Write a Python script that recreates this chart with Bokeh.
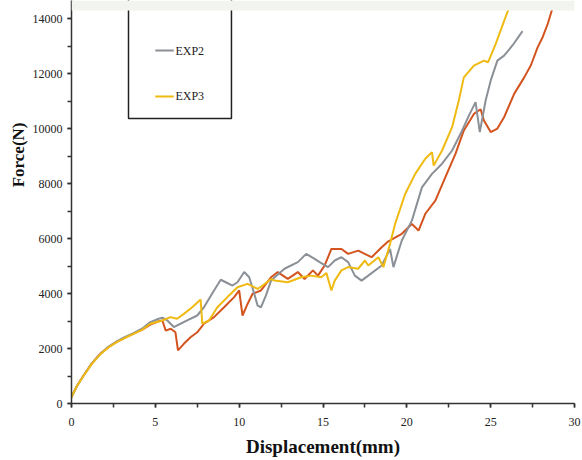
from bokeh.plotting import figure
from bokeh.models import Range1d, SingleIntervalTicker, Title, BoxAnnotation
from bokeh.core.properties import value
from bokeh.embed import file_html
from bokeh.resources import INLINE

# ---- data ----
exp1_x = [0, 0.3, 0.7, 1.2, 1.7, 2.2, 2.7, 3.2, 3.7, 4.2, 4.7, 5.2, 5.42, 5.62, 5.92, 6.2, 6.35,
          6.7, 7.1, 7.5, 7.9, 8.5, 9.1, 9.7, 10.0, 10.2, 10.5, 10.8, 11.3, 11.9, 12.3, 12.9,
          13.5, 13.9, 14.4, 14.7, 15.1, 15.5, 16.1, 16.5, 17.1, 17.7, 17.9, 18.5, 18.9, 19.7,
          20.3, 20.7, 21.1, 21.7, 22.3, 22.9, 23.4, 24.0, 24.4, 24.6, 25.0, 25.4, 25.8, 26.4,
          27.0, 27.4, 27.8, 28.1, 28.4, 28.7]
exp1_y = [230, 620, 1000, 1450, 1800, 2050, 2240, 2400, 2540, 2680, 2870, 2990, 3020, 2650,
          2720, 2590, 1930, 2170, 2410, 2590, 2900, 3140, 3500, 3870, 4110, 3200, 3620, 3990,
          4110, 4590, 4780, 4530, 4780, 4530, 4840, 4650, 5020, 5620, 5620, 5440, 5560, 5380,
          5320, 5680, 5900, 6170, 6530, 6290, 6900, 7380, 8230, 9080, 9930, 10530, 10700,
          10290, 9870, 10000, 10410, 11260, 11860, 12300, 12950, 13320, 13800, 14400]

exp2_x = [0, 0.3, 0.7, 1.2, 1.7, 2.2, 2.7, 3.2, 3.7, 4.2, 4.7, 5.2, 5.42, 5.72, 6.1, 6.5, 6.9,
          7.5, 7.9, 8.5, 8.9, 9.2, 9.6, 9.9, 10.3, 10.6, 10.9, 11.1, 11.3, 11.6, 11.9, 12.7,
          13.5, 14.0, 14.5, 14.8, 15.3, 15.7, 16.1, 16.5, 16.9, 17.3, 17.7, 18.5, 19.0, 19.2,
          19.7, 20.3, 20.9, 21.5, 22.1, 22.7, 23.3, 23.7, 24.1, 24.35, 24.7, 25.0, 25.4, 25.8,
          26.3, 26.9]
exp2_y = [230, 600, 1000, 1440, 1790, 2060, 2260, 2420, 2560, 2720, 2960, 3080, 3120, 3020,
          2780, 2900, 3020, 3200, 3500, 4110, 4500, 4410, 4290, 4410, 4780, 4590, 3990, 3560,
          3500, 3930, 4470, 4900, 5140, 5440, 5260, 5140, 4960, 5200, 5320, 5140, 4650, 4470,
          4650, 5020, 5620, 4960, 5930, 6650, 7860, 8350, 8720, 9200, 9930, 10470, 10960,
          9870, 11020, 11740, 12470, 12650, 13020, 13540]

exp3_x = [0, 0.3, 0.7, 1.2, 1.7, 2.2, 2.7, 3.2, 3.7, 4.2, 4.7, 5.42, 5.9, 6.3, 6.7, 7.2, 7.7,
          7.8, 8.2, 8.7, 9.3, 9.9, 10.5, 11.1, 11.4, 11.9, 12.1, 12.9, 13.7, 14.3, 14.9, 15.2,
          15.5, 15.7, 16.1, 16.5, 17.1, 17.5, 17.7, 18.3, 18.6, 19.0, 19.3, 19.9, 20.5, 21.1,
          21.5, 21.6, 22.1, 22.7, 23.1, 23.4, 24.0, 24.6, 24.85, 25.3, 25.7, 26.1]
exp3_y = [230, 610, 990, 1430, 1780, 2040, 2230, 2390, 2530, 2680, 2900, 3020, 3140, 3080,
          3260, 3500, 3780, 2900, 3020, 3500, 3870, 4230, 4350, 4170, 4290, 4530, 4470, 4410,
          4590, 4650, 4590, 4750, 4110, 4470, 4840, 4960, 4900, 5200, 5020, 5320, 4960, 5810,
          6530, 7620, 8350, 8900, 9140, 8650, 9200, 10050, 11020, 11860, 12290, 12470, 12410,
          13080, 13740, 14400]

series_names = ["EXP1", "EXP2", "EXP3"]
series_colors = ["#d3541f", "#8b9097", "#efba12"]

x_ticks_interval = 5
y_ticks_interval = 2000

Y_TOP = 14655      # value at the very top of the picture
BAND_FROM = 14291  # the light band over the top 10 px of the picture

# ---- figure ----
p = figure(width=582, height=460, output_backend="svg", toolbar_location=None,
           x_range=Range1d(0, 30), y_range=Range1d(0, Y_TOP),
           min_border_left=71, min_border_right=8, min_border_top=0, min_border_bottom=57)
p.outline_line_color = None
p.grid.visible = False
p.background_fill_color = "white"
p.border_fill_color = "white"

for xs, ys, c in zip([exp1_x, exp2_x, exp3_x], [exp1_y, exp2_y, exp3_y], series_colors):
    p.line(xs, ys, line_color=c, line_width=2)

p.xaxis.ticker = SingleIntervalTicker(interval=x_ticks_interval, num_minor_ticks=2)
p.yaxis.ticker = SingleIntervalTicker(interval=y_ticks_interval, num_minor_ticks=2)
for ax in (p.xaxis[0], p.yaxis[0]):
    ax.axis_line_color = "#333333"
    ax.axis_line_width = 1.5
    ax.major_tick_line_color = "#333333"
    ax.minor_tick_line_color = "#333333"
    ax.major_tick_line_width = 1.5
    ax.minor_tick_line_width = 1.5
    ax.major_tick_out = 4
    ax.major_tick_in = 0
    ax.minor_tick_out = 4
    ax.minor_tick_in = 0
    ax.major_label_text_font = "Liberation Serif"
    ax.major_label_text_font_size = "12px"
    ax.major_label_text_color = "#222222"
p.xaxis.major_label_standoff = 10
p.yaxis.major_label_standoff = 5

p.xaxis.axis_label = "Displacement(mm)"
p.xaxis.axis_label_text_font = "Liberation Serif"
p.xaxis.axis_label_text_font_style = "bold"
p.xaxis.axis_label_text_font_size = "19px"
p.xaxis.axis_label_text_color = "#111111"
p.xaxis.axis_label_standoff = 7

ytitle = Title(text="Force(N)", align="right", offset=122, text_font="Liberation Serif",
               text_font_style="bold", text_font_size="17px", text_color="#111111",
               standoff=4)
p.add_layout(ytitle, "left")

# ---- legend (its top part is hidden by the band above the chart) ----
p.quad(left=3.40, right=9.54, bottom=10364, top=16000, fill_color="white",
       line_color="#222222", line_width=1.5)
leg_y = [14508, 12836, 11164]
for name, c, ly in zip(series_names, series_colors, leg_y):
    if ly > BAND_FROM:
        continue
    p.segment(x0=5.0, y0=ly, x1=6.1, y1=ly, line_color=c, line_width=2)
    p.text(x=[6.2], y=[ly], text=[name], text_font=value("Liberation Serif"),
           text_font_size="12px", text_baseline="middle", text_align="left",
           text_color="#222222")

band = BoxAnnotation(bottom=BAND_FROM, fill_color="#f2f4f0", fill_alpha=1.0,
                     line_color=None, level="overlay")
p.add_layout(band)

open("out.html", "w").write(file_html(p, INLINE))
